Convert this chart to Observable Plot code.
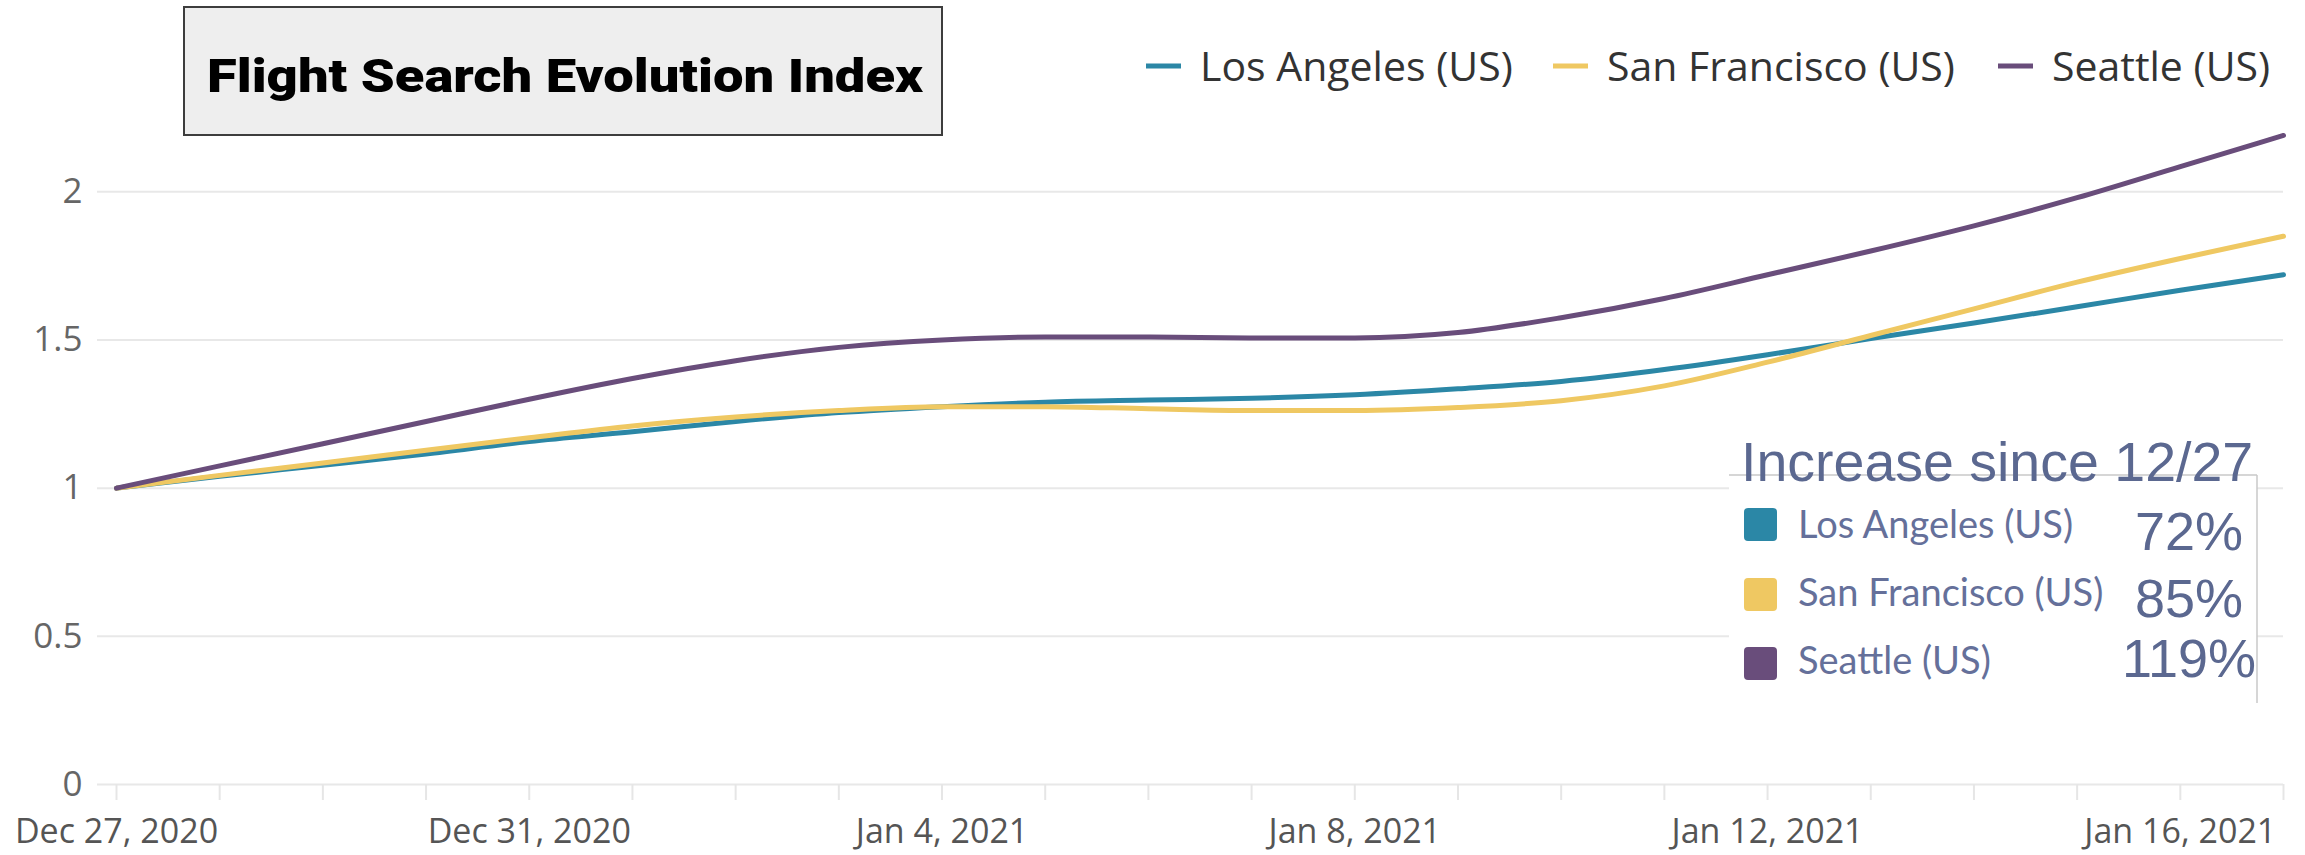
<!DOCTYPE html>
<html>
<head>
<meta charset="utf-8">
<script src="https://cdn.jsdelivr.net/npm/d3@7"></script>
<script src="https://cdn.jsdelivr.net/npm/@observablehq/plot@0.6"></script>
<style>
  html, body { margin: 0; padding: 0; background: #fff; }
  #wrap { position: relative; width: 2305px; height: 855px; overflow: hidden; }
  #wrap > svg { position: absolute; left: 0; top: 0; }
</style>
</head>
<body>
<div id="wrap"></div>
<script>
// ---- data ----
const cities = ["Los Angeles (US)", "San Francisco (US)", "Seattle (US)"];
const cityColors = ["#2b87a6", "#efc862", "#694d7b"];
const dates = [
  "2020-12-27", "2020-12-28", "2020-12-29", "2020-12-30", "2020-12-31",
  "2021-01-01", "2021-01-02", "2021-01-03", "2021-01-04", "2021-01-05",
  "2021-01-06", "2021-01-07", "2021-01-08", "2021-01-09", "2021-01-10",
  "2021-01-11", "2021-01-12", "2021-01-13", "2021-01-14", "2021-01-15",
  "2021-01-16", "2021-01-17"
];
const losAngeles   = [1.00, 1.04, 1.077, 1.115, 1.157, 1.19, 1.225, 1.255, 1.275, 1.29, 1.297, 1.303, 1.315, 1.335, 1.36, 1.40, 1.45, 1.505, 1.557, 1.612, 1.668, 1.72];
const sanFrancisco = [1.00, 1.043, 1.085, 1.128, 1.17, 1.21, 1.24, 1.262, 1.275, 1.275, 1.268, 1.262, 1.262, 1.272, 1.295, 1.345, 1.425, 1.515, 1.605, 1.695, 1.775, 1.85];
const seattle      = [1.00, 1.075, 1.15, 1.225, 1.30, 1.37, 1.43, 1.475, 1.50, 1.51, 1.51, 1.507, 1.507, 1.525, 1.575, 1.64, 1.72, 1.80, 1.885, 1.98, 2.085, 2.19];
const increases = ["72%", "85%", "119%"];
const yTicks = [0, 0.5, 1, 1.5, 2];
const xLabelDates = ["2020-12-27", "2020-12-31", "2021-01-04", "2021-01-08", "2021-01-12", "2021-01-16"];
const chartTitle = "Flight Search Evolution Index";
const insetTitle = "Increase since 12/27";

// ---- build table ----
const seriesValues = [losAngeles, sanFrancisco, seattle];
const rows = [];
cities.forEach((c, k) => seriesValues[k].forEach((v, i) => rows.push({date: new Date(dates[i]), value: v, city: c})));
const dayTicks = dates.map(d => new Date(d));
const labelTicks = xLabelDates.map(d => new Date(d));

const chart = Plot.plot({
  width: 2305,
  height: 855,
  marginLeft: 116,
  marginRight: 22,
  marginTop: 132,
  marginBottom: 71,
  style: {fontFamily: "'Open Sans', sans-serif", fontSize: "34px", background: "transparent", overflow: "visible"},
  x: {type: "utc", domain: [dayTicks[0], dayTicks[dayTicks.length - 1]]},
  y: {domain: [0, 2.2]},
  color: {domain: cities, range: cityColors},
  marks: [
    Plot.ruleY(yTicks, {stroke: "#e8e8e8", strokeWidth: 2, insetLeft: -19}),
    Plot.axisX({ticks: dayTicks, tickSize: 16, tickFormat: () => "", stroke: "#e6e6e6", strokeWidth: 2, label: null}),
    Plot.axisX({ticks: labelTicks, tickSize: 0, tickPadding: 34, tickFormat: d3.utcFormat("%b %-d, %Y"), fontSize: 34, color: "#555", label: null}),
    Plot.axisY({ticks: yTicks, tickSize: 0, tickPadding: 34, tickFormat: d => String(d), fontSize: 35, color: "#666", label: null}),
    Plot.line(rows, {x: "date", y: "value", stroke: "city", z: "city", strokeWidth: 5, curve: "monotone-x"})
  ]
});
document.getElementById("wrap").appendChild(chart);

// ---- overlays: title box, top legend, inset table ----
const ns = "http://www.w3.org/2000/svg";
const ov = d3.select("#wrap").append("svg").attr("xmlns", ns).attr("width", 2305).attr("height", 855);

// title
ov.append("rect").attr("x", 184).attr("y", 7).attr("width", 758).attr("height", 128)
  .attr("fill", "#eeeeee").attr("stroke", "#3d3d3d").attr("stroke-width", 2);
ov.append("text").attr("x", 565).attr("y", 92).attr("text-anchor", "middle")
  .attr("font-family", "Roboto, 'Liberation Sans', sans-serif").attr("font-weight", 900).attr("font-size", 46)
  .attr("textLength", 716).attr("lengthAdjust", "spacingAndGlyphs")
  .attr("fill", "#000").text(chartTitle);

// top legend
const legendX = [1146, 1553, 1998];
cities.forEach((c, k) => {
  ov.append("line").attr("x1", legendX[k]).attr("x2", legendX[k] + 35).attr("y1", 66).attr("y2", 66)
    .attr("stroke", cityColors[k]).attr("stroke-width", 5);
  ov.append("text").attr("x", legendX[k] + 54).attr("y", 81)
    .attr("font-family", "'Open Sans', sans-serif").attr("font-size", 41).attr("fill", "#333").text(c);
});

// inset table
const inkColor = "#5b6890";
ov.append("rect").attr("x", 1729).attr("y", 475).attr("width", 528).attr("height", 228).attr("fill", "#fff");
ov.append("line").attr("x1", 1729).attr("x2", 2257).attr("y1", 475).attr("y2", 475).attr("stroke", "#c8c8c8").attr("stroke-width", 1.5);
ov.append("line").attr("x1", 2257).attr("x2", 2257).attr("y1", 475).attr("y2", 703).attr("stroke", "#c8c8c8").attr("stroke-width", 1.5);
ov.append("text").attr("x", 1741).attr("y", 481)
  .attr("font-family", "'Liberation Sans', Arial, sans-serif").attr("font-size", 55.5).attr("fill", inkColor).text(insetTitle);
const rowSquareY = [508, 578, 647];
const rowLabelY = [538, 606, 674];
const rowPctY = [550, 617, 677];
cities.forEach((c, k) => {
  ov.append("rect").attr("x", 1744).attr("y", rowSquareY[k]).attr("width", 33).attr("height", 33).attr("rx", 4)
    .attr("fill", cityColors[k]);
  ov.append("text").attr("x", 1798).attr("y", rowLabelY[k])
    .attr("font-family", "Lato, sans-serif").attr("font-size", 38).attr("fill", "#65709a").text(c);
  ov.append("text").attr("x", 2189).attr("y", rowPctY[k]).attr("text-anchor", "middle")
    .attr("font-family", "'Liberation Sans', Arial, sans-serif").attr("font-size", 54).attr("fill", inkColor).text(increases[k]);
});
</script>
</body>
</html>
